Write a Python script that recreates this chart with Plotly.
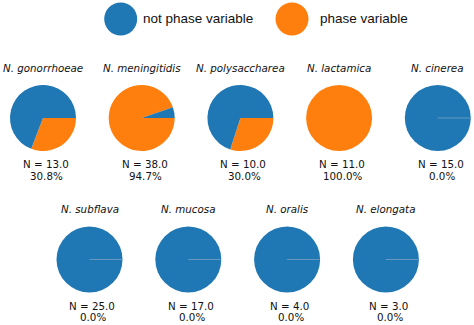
import plotly.graph_objects as go

# ---- data ----
species = ["N. gonorrhoeae", "N. meningitidis", "N. polysaccharea", "N. lactamica",
           "N. cinerea", "N. subflava", "N. mucosa", "N. oralis", "N. elongata"]
n_total = [13.0, 38.0, 10.0, 11.0, 15.0, 25.0, 17.0, 4.0, 3.0]
pct_phase = [30.8, 94.7, 30.0, 100.0, 0.0, 0.0, 0.0, 0.0, 0.0]
categories = ["not phase variable", "phase variable"]
colors = ["#1f77b4", "#ff7f0e"]

# ---- layout (pixels) ----
W, H = 474, 325
R = 33.0
rows = [dict(n=5, x0=43.0, step=98.7, cy=118.0, title_y=67.5, n_y=163.5, p_y=175.8),
        dict(n=4, x0=89.5, step=98.8, cy=259.5, title_y=208.8, n_y=306.0, p_y=317.3)]

def px(x):
    return x / W

def py(y):
    return 1 - y / H

fig = go.Figure()
shapes = []
annotations = []
LBL_FONT = dict(family="DejaVu Sans", size=10.3, color="#111111")

idx = 0
for row in rows:
    for j in range(row["n"]):
        cx = row["x0"] + row["step"] * j
        cy = row["cy"]
        p = pct_phase[idx]
        # slices listed phase-variable first so that the rendered sweep from 3 o'clock
        # matches the reference (blue counter-clockwise from 3 o'clock, orange lower right)
        fig.add_trace(go.Pie(
            labels=categories[::-1],
            values=[p, 100 - p],
            marker=dict(colors=colors[::-1], line=dict(width=0)),
            sort=False,
            direction="counterclockwise",
            rotation=90,
            textinfo="none",
            hoverinfo="skip",
            showlegend=False,
            domain=dict(x=[px(cx - R), px(cx + R)], y=[py(cy + R), py(cy - R)]),
        ))
        if p == 0:
            # faint seam of the zero-width wedge at 3 o'clock
            shapes.append(dict(type="line", xref="paper", yref="paper",
                               x0=px(cx), x1=px(cx + R - 0.5), y0=py(cy), y1=py(cy),
                               line=dict(color="rgba(140,175,200,0.8)", width=0.8)))
        genus, sp = species[idx].split(" ")
        annotations.append(dict(text=f"<i>{genus} {sp}</i>", x=px(cx), y=py(row["title_y"]),
                                xref="paper", yref="paper", showarrow=False,
                                xanchor="center", yanchor="middle", font=LBL_FONT))
        annotations.append(dict(text=f"N = {n_total[idx]:.1f}", x=px(cx + 2.8), y=py(row["n_y"]),
                                xref="paper", yref="paper", showarrow=False,
                                xanchor="center", yanchor="middle", font=LBL_FONT))
        annotations.append(dict(text=f"{p:.1f}%", x=px(cx + 3.8), y=py(row["p_y"]),
                                xref="paper", yref="paper", showarrow=False,
                                xanchor="center", yanchor="middle", font=LBL_FONT))
        idx += 1

# ---- legend (circles + text) ----
leg_cx = [120.7, 292.0]
leg_tx = [141.0, 317.7]
leg_cy = 19.0
leg_r = 16.5
for c, lab, lx, tx in zip(colors, categories, leg_cx, leg_tx):
    shapes.append(dict(type="circle", xref="paper", yref="paper",
                       x0=px(lx - leg_r), x1=px(lx + leg_r),
                       y0=py(leg_cy + leg_r), y1=py(leg_cy - leg_r),
                       fillcolor=c, line=dict(width=0)))
    annotations.append(dict(text=lab, x=px(tx), y=py(leg_cy), xref="paper", yref="paper",
                            showarrow=False, xanchor="left", yanchor="middle",
                            font=dict(family="Liberation Sans", size=13.5, color="#111111")))

fig.update_layout(
    width=W, height=H, autosize=False,
    margin=dict(l=0, r=0, t=0, b=0),
    paper_bgcolor="white", plot_bgcolor="white",
    shapes=shapes, annotations=annotations,
    showlegend=False,
)

fig.write_html("out.html")
